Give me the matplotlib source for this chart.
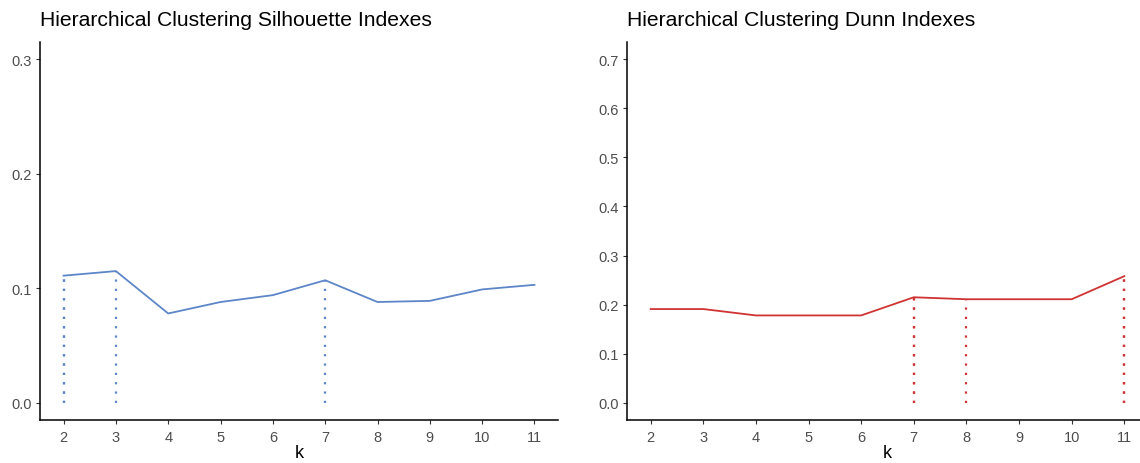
import matplotlib.pyplot as plt

plt.rcParams['font.family'] = ['Liberation Sans', 'DejaVu Sans']

k = [2, 3, 4, 5, 6, 7, 8, 9, 10, 11]
silhouette = [0.111, 0.115, 0.078, 0.088, 0.094, 0.107, 0.088, 0.089, 0.099, 0.103]
dunn = [0.191, 0.191, 0.178, 0.178, 0.178, 0.215, 0.211, 0.211, 0.211, 0.258]
sil_best = [2, 2, 3, 7]
dunn_best = [7, 7, 8, 11, 11]

blue = '#5D86C8'
red = '#D03333'

fig = plt.figure(figsize=(11.4, 4.64), dpi=100)
ax1 = fig.add_axes([0.0351, 0.0927, 0.4544, 0.8146])
ax2 = fig.add_axes([0.5500, 0.0927, 0.4570, 0.8146])


def style(ax, ymax, yticks):
    ax.set_xlim(1.55, 11.45)
    ax.set_ylim(-0.05 * ymax, 1.05 * ymax)
    ax.set_xticks(k)
    ax.set_yticks(yticks)
    ax.set_yticklabels([f'{t:.1f}' for t in yticks])
    for s in ['top', 'right']:
        ax.spines[s].set_visible(False)
    for s in ['left', 'bottom']:
        ax.spines[s].set_linewidth(1.1)
        ax.spines[s].set_color('black')
    ax.tick_params(length=3, width=0.8, color='#333333', labelcolor='#4D4D4D',
                   labelsize=10.5, pad=3)
    ax.tick_params(axis='x', pad=4)
    ax.set_xlabel('k', fontsize=13, labelpad=0)


def draw(ax, values, best, color):
    ax.plot(k, values, color=color, lw=1.3, clip_on=False)
    for b in best:
        v = values[k.index(b)]
        ax.plot([b, b], [0, v], color=color, lw=1.6, linestyle=(0, (1.0, 3.2)))


draw(ax1, silhouette, sil_best, blue)
style(ax1, 0.3, [0.0, 0.1, 0.2, 0.3])
draw(ax2, dunn, dunn_best, red)
style(ax2, 0.7, [0.0, 0.1, 0.2, 0.3, 0.4, 0.5, 0.6, 0.7])

fig.text(40 / 1140, 1 - 20 / 464, 'Hierarchical Clustering Silhouette Indexes',
         fontsize=15.2, va='center', ha='left')
fig.text(627 / 1140, 1 - 20 / 464, 'Hierarchical Clustering Dunn Indexes',
         fontsize=15.2, va='center', ha='left')

fig.savefig('out.png', dpi=100)
